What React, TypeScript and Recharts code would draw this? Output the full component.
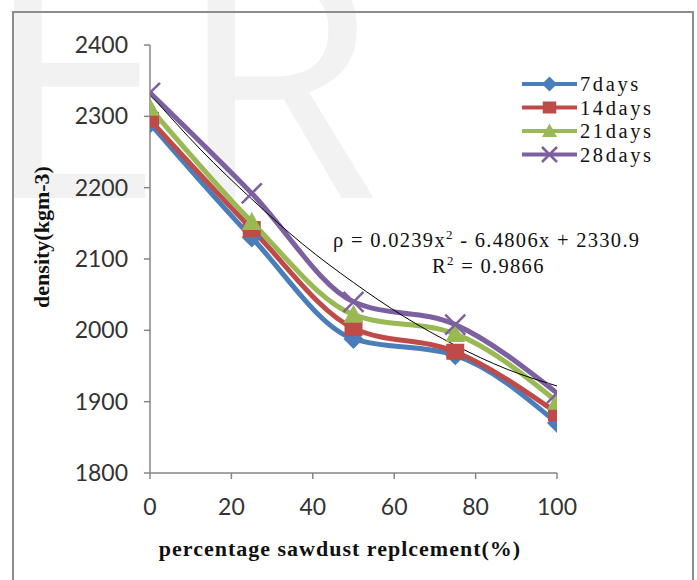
import React from 'react';
import { LineChart, Line, XAxis, YAxis } from 'recharts';

const xValues = [0, 25, 50, 75, 100];
const days7 = [2290, 2130, 1988, 1965, 1870];
const days14 = [2295, 2142, 2003, 1970, 1884];
const days21 = [2312, 2152, 2022, 1995, 1900];
const days28 = [2333, 2192, 2040, 2008, 1912];

const trendX = [0, 12.5, 25, 37.5, 50, 62.5, 75, 87.5, 100];
const trendY = [2331, 2253, 2184, 2121, 2067, 2019, 1979, 1946, 1922];

const xTicks = [0, 20, 40, 60, 80, 100];
const yTicks = [1800, 1900, 2000, 2100, 2200, 2300, 2400];

const seriesNames = ['7days', '14days', '21days', '28days'];
const colors = ['#4a7ebb', '#be4b48', '#98b954', '#7d60a0'];

const chartData = xValues.map((x, i) => ({ x, d7: days7[i], d14: days14[i], d21: days21[i], d28: days28[i] }));
const trendData = trendX.map((x, i) => ({ x, trend: trendY[i] }));

const W = 697;
const H = 580;

function markerShape(kind: number, cx: number, cy: number, color: string, key?: any, s = 1) {
  if (cx == null || cy == null) return <g key={key} />;
  if (kind === 0) {
    const r = 10 * s;
    return <path key={key} d={`M${cx},${cy - r}L${cx + r},${cy}L${cx},${cy + r}L${cx - r},${cy}Z`} fill={color} />;
  }
  if (kind === 1) {
    return <rect key={key} x={cx - 9 * s} y={cy - 8 * s} width={18 * s} height={16 * s} fill={color} />;
  }
  if (kind === 2) {
    return <path key={key} d={`M${cx},${cy - 10 * s}L${cx + 10 * s},${cy + 8 * s}L${cx - 10 * s},${cy + 8 * s}Z`} fill={color} />;
  }
  const r = 10 * s;
  return (
    <g key={key}>
      <line x1={cx - r} y1={cy - r} x2={cx + r} y2={cy + r} stroke={color} strokeWidth={2.5} />
      <line x1={cx - r} y1={cy + r} x2={cx + r} y2={cy - r} stroke={color} strokeWidth={2.5} />
    </g>
  );
}

const makeDot = (kind: number, color: string) => (props: any) =>
  markerShape(kind, props.cx, props.cy, color, `${kind}-${props.index}`);

const XTick = (props: any) => {
  const { x, y, payload } = props;
  return (
    <text x={x} y={y} dy={20} textAnchor="middle" fontFamily="Lato" fontSize={23} fill="#333">
      {payload.value}
    </text>
  );
};

const YTick = (props: any) => {
  const { x, y, payload } = props;
  return (
    <text x={x} y={y} dy={8} textAnchor="end" fontFamily="Lato" fontSize={23} fill="#333">
      {payload.value}
    </text>
  );
};

const LegendBox = () => (
  <svg width={175} height={100} style={{ position: 'absolute', left: 515, top: 72 }}>
    {seriesNames.map((name, i) => {
      const y = 12 + i * 23.5;
      return (
        <g key={name}>
          <line x1={7} y1={y} x2={62} y2={y} stroke={colors[i]} strokeWidth={4} />
          {markerShape(i, 34.5, y, colors[i], undefined, 0.75)}
          <text x={65} y={y + 7} fontFamily="Liberation Serif" fontSize={20.5} letterSpacing={2.6} fill="#111">
            {name}
          </text>
        </g>
      );
    })}
  </svg>
);

export default function App() {
  return (
    <div style={{ position: 'fixed', left: 0, top: 0, width: W, height: H, background: '#fff', overflow: 'hidden' }}>
      <div
        style={{
          position: 'absolute',
          left: -18,
          top: -95,
          fontFamily: 'Open Sans',
          fontSize: 330,
          color: '#f2f2f2',
          lineHeight: 1,
          letterSpacing: 10,
          whiteSpace: 'nowrap',
        }}
      >
        ER
      </div>
      <div
        style={{
          position: 'absolute',
          left: 12,
          top: 11,
          width: 678,
          height: 620,
          border: '2px solid #8c8c8c',
        }}
      />
      <div style={{ position: 'absolute', left: 0, top: 0 }}>
        <LineChart width={W} height={H} data={chartData} margin={{ top: 45, right: 140, left: 70, bottom: 57 }}>
          <XAxis
            dataKey="x"
            type="number"
            domain={[0, 100]}
            ticks={xTicks}
            tick={<XTick />}
            tickSize={6}
            tickMargin={16}
            height={50}
            stroke="#868686"
            strokeWidth={1.5}
            allowDataOverflow
          />
          <YAxis
            type="number"
            domain={[1800, 2400]}
            ticks={yTicks}
            tick={<YTick />}
            tickSize={6}
            tickMargin={16}
            width={80}
            stroke="#868686"
            strokeWidth={1.5}
            allowDataOverflow
          />
          <Line type="monotone" dataKey="d7" stroke={colors[0]} strokeWidth={5} dot={makeDot(0, colors[0])} isAnimationActive={false} />
          <Line type="monotone" dataKey="d14" stroke={colors[1]} strokeWidth={5} dot={makeDot(1, colors[1])} isAnimationActive={false} />
          <Line type="monotone" dataKey="d21" stroke={colors[2]} strokeWidth={5} dot={makeDot(2, colors[2])} isAnimationActive={false} />
          <Line type="monotone" dataKey="d28" stroke={colors[3]} strokeWidth={5} dot={makeDot(3, colors[3])} isAnimationActive={false} />
          <Line data={trendData} type="monotone" dataKey="trend" stroke="#000" strokeWidth={1} dot={false} isAnimationActive={false} />
        </LineChart>
      </div>
      <LegendBox />
      <div
        style={{
          position: 'absolute',
          left: 333,
          top: 227,
          width: 330,
          fontFamily: 'Liberation Serif',
          fontSize: 20.5,
          letterSpacing: 1.3,
          color: '#111',
          lineHeight: '26px',
          whiteSpace: 'nowrap',
        }}
      >
        <div>
          ρ = 0.0239x<sup style={{ fontSize: 13, lineHeight: 0 }}>2</sup> - 6.4806x + 2330.9
        </div>
        <div style={{ paddingLeft: 99 }}>
          R<sup style={{ fontSize: 13, lineHeight: 0 }}>2</sup> = 0.9866
        </div>
      </div>
      <div
        style={{
          position: 'absolute',
          left: 140,
          top: 536,
          width: 400,
          textAlign: 'center',
          fontFamily: 'Liberation Serif',
          fontWeight: 'bold',
          fontSize: 22,
          letterSpacing: 1,
          color: '#111',
          whiteSpace: 'nowrap',
        }}
      >
        percentage sawdust replcement(%)
      </div>
      <div
        style={{
          position: 'absolute',
          left: 42,
          top: 237,
          transform: 'translate(-50%, -50%) rotate(-90deg)',
          fontFamily: 'Liberation Serif',
          fontWeight: 'bold',
          fontSize: 22,
          color: '#111',
          whiteSpace: 'nowrap',
        }}
      >
        density(kgm-3)
      </div>
    </div>
  );
}
